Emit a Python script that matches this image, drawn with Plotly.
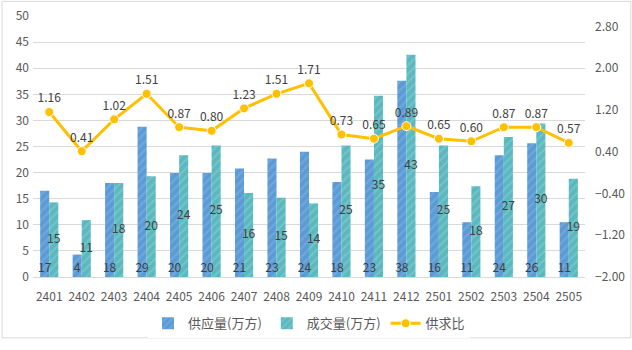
import plotly.graph_objects as go

months = ["2401","2402","2403","2404","2405","2406","2407","2408","2409",
          "2410","2411","2412","2501","2502","2503","2504","2505"]
supply = [16.5, 4.3, 18.0, 28.8, 19.9, 19.9, 20.8, 22.7, 24.0,
          18.2, 22.5, 37.6, 16.3, 10.5, 23.3, 25.6, 10.5]
supply_labels = ["17","4","18","29","20","20","21","23","24",
                 "18","23","38","16","11","24","26","11"]
deal = [14.3, 10.9, 18.0, 19.3, 23.3, 25.2, 16.1, 15.2, 14.1,
        25.2, 34.7, 42.6, 25.2, 17.4, 26.8, 29.4, 18.8]
deal_labels = ["15","11","18","20","24","25","16","15","14",
               "25","35","43","25","18","27","30","19"]
ratio = [1.16, 0.41, 1.02, 1.51, 0.87, 0.80, 1.23, 1.51, 1.71,
         0.73, 0.65, 0.89, 0.65, 0.60, 0.87, 0.87, 0.57]
ratio_labels = [f"{v:.2f}" for v in ratio]
left_ticks = [0, 5, 10, 15, 20, 25, 30, 35, 40, 45, 50]
right_ticks = [-2.0, -1.2, -0.4, 0.4, 1.2, 2.0, 2.8]

FONT = "Noto Sans CJK SC"
TXT = "#404040"
BW = 0.28
idx = list(range(len(months)))

fig = go.Figure()
fig.add_trace(go.Bar(
    x=idx, y=supply, name="供应量(万方)", width=BW, offset=-BW,
    marker=dict(color="#5B9BD5", line=dict(width=0),
                pattern=dict(shape="/", fgcolor="#86B5E3", size=6, solidity=0.35)),
))
fig.add_trace(go.Bar(
    x=idx, y=deal, name="成交量(万方)", width=BW, offset=0,
    marker=dict(color="#5AB8BF", line=dict(width=0),
                pattern=dict(shape="/", fgcolor="#8FD0D4", size=6, solidity=0.35)),
))
fig.add_trace(go.Scatter(
    x=idx, y=ratio, name="供求比", yaxis="y2",
    mode="lines+markers+text", text=ratio_labels, textposition="top center",
    textfont=dict(color=TXT, size=12, family=FONT),
    line=dict(color="#FFC000", width=3),
    marker=dict(color="#FFC000", size=9, line=dict(color="white", width=1)),
    cliponaxis=False,
))
# data labels for bars
fig.add_trace(go.Scatter(
    x=[i - BW / 2 for i in idx], y=[1.6] * len(idx), mode="text",
    text=supply_labels, textposition="middle center",
    textfont=dict(color=TXT, size=12, family=FONT),
    showlegend=False, hoverinfo="skip", cliponaxis=False,
))
fig.add_trace(go.Scatter(
    x=[i + BW / 2 for i in idx], y=[v / 2 for v in deal], mode="text",
    text=deal_labels, textposition="middle center",
    textfont=dict(color=TXT, size=12, family=FONT),
    showlegend=False, hoverinfo="skip", cliponaxis=False,
))

fig.update_layout(
    width=632, height=350,
    margin=dict(l=33, r=47, t=16, b=68),
    paper_bgcolor="white", plot_bgcolor="white",
    font=dict(family=FONT, size=12, color="#595959"),
    barmode="overlay",
    xaxis=dict(range=[-0.5, len(months) - 0.5], tickvals=idx, ticktext=months,
               showgrid=False, showline=True, zeroline=False,
               linecolor="#D9D9D9", linewidth=1, ticks="", automargin=False,
               ticklabelstandoff=9,
               tickfont=dict(size=12, color="#595959")),
    yaxis=dict(range=[0, 50], tickvals=left_ticks, showgrid=True,
               gridcolor="#D9D9D9", gridwidth=1, zeroline=False, automargin=False,
               showline=False, ticks="", ticklabelstandoff=3,
               tickfont=dict(size=12, color="#595959")),
    yaxis2=dict(range=[-2, 3.0], tickvals=right_ticks, tickformat=".2f",
                overlaying="y", side="right", showgrid=False, zeroline=False,
                automargin=False, showline=False, ticks="", ticklabelstandoff=9,
                tickfont=dict(size=12, color="#595959")),
    legend=dict(orientation="h", x=0.5, xanchor="center", y=-0.12, yanchor="top",
                font=dict(size=13, color="#595959"), traceorder="normal"),
    showlegend=True,
)
fig.add_shape(type="rect", xref="paper", yref="paper",
              x0=-0.056, x1=1.083, y0=-0.233, y1=1.056,
              line=dict(color="#D9D9D9", width=1), fillcolor="rgba(0,0,0,0)",
              layer="below")

fig.write_html("out.html")
